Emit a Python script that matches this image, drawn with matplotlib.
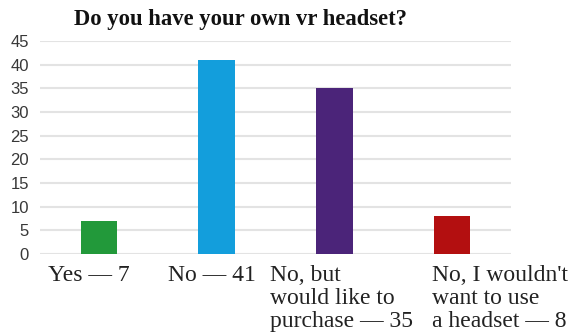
import matplotlib
matplotlib.use("Agg")
import matplotlib.pyplot as plt

categories = ["Yes — 7", "No — 41", "No, but\nwould like to\npurchase — 35",
              "No, I wouldn't\nwant to use\na headset — 8"]
values = [7, 41, 35, 8]
colors = ["#22993a", "#139edc", "#4b2479", "#b30f10"]
yticks = [0, 5, 10, 15, 20, 25, 30, 35, 40, 45]
# horizontal offset of each left-aligned category label from its bar centre
label_offsets = [-0.43, -0.41, -0.55, -0.17]

fig = plt.figure(figsize=(5.74, 3.36), dpi=100)
ax = fig.add_axes([40 / 574, 82 / 336, 471 / 574, 213 / 336])

x = list(range(len(values)))
ax.bar(x, values, width=0.31, color=colors, zorder=3)
ax.set_xlim(-0.5, len(values) - 0.5)
ax.set_ylim(0, 45)
ax.set_yticks(yticks)
ax.set_yticklabels([str(t) for t in yticks], family="Liberation Sans",
                   fontsize=12, color="#383838")
ax.tick_params(axis="y", length=0, pad=8)
ax.set_xticks([])
ax.grid(axis="y", color="#e3e3e3", linewidth=1.5, zorder=0)
for s in ax.spines.values():
    s.set_visible(False)

for xi, lab, off in zip(x, categories, label_offsets):
    ax.text(xi + off, -0.05, lab, transform=ax.get_xaxis_transform(),
            ha="left", va="top", family="Liberation Serif", fontsize=17,
            color="#222222", linespacing=1.13)

fig.text(241 / 574, 1 - 19 / 336, "Do you have your own vr headset?",
         ha="center", va="center", family="Liberation Serif",
         fontweight="bold", fontsize=16.3, color="#111111")

fig.savefig("out.png", dpi=100)
